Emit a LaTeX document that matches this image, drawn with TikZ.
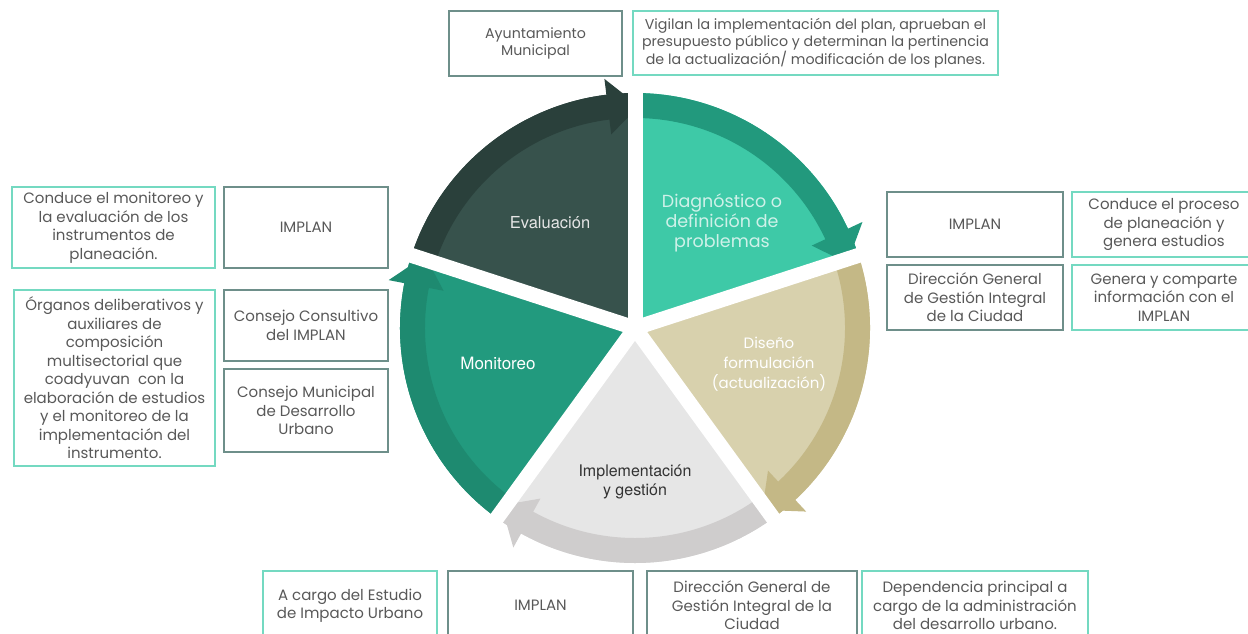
\documentclass[tikz,border=0pt]{standalone}
\usepackage{fontspec}
\setmainfont{Poppins}
\newfontfamily\heros{TeX Gyre Heros}
\usetikzlibrary{positioning}

\definecolor{evalfill}{HTML}{37524C}
\definecolor{evalband}{HTML}{2A403B}
\definecolor{diagfill}{HTML}{3EC9A7}
\definecolor{diagband}{HTML}{22997D}
\definecolor{disefill}{HTML}{D8D1AD}
\definecolor{diseband}{HTML}{C4B886}
\definecolor{implfill}{HTML}{E6E6E6}
\definecolor{implband}{HTML}{CFCDCD}
\definecolor{monifill}{HTML}{229A7E}
\definecolor{moniband}{HTML}{1E8A70}
\definecolor{roleline}{HTML}{6E8F8A}
\definecolor{noteline}{HTML}{74D9C1}
\definecolor{boxtext}{HTML}{585858}

\tikzset{
  rolebox/.style={
    draw=roleline,
    line width=1.2pt,
    inner sep=0pt,
    align=center,
    text=boxtext,
    font=\fontsize{15}{18.5}\selectfont
  },
  notebox/.style={
    rolebox,
    draw=noteline
  },
  topbox/.style={
    font=\fontsize{14.2}{17}\selectfont
  },
  phase/.style={
    align=center,
    font=\heros\fontsize{16.5}{19}\selectfont
  },
  phase wide/.style={
    align=center,
    font=\fontsize{17.5}{20}\selectfont
  }
}

\begin{document}
\begin{tikzpicture}[x=1pt,y=-1pt]
  \useasboundingbox (0,0) rectangle (1248,633);

  % cycle wheel: five sectors with arc arrows
  \begin{scope}[shift={(635,328)}, y=1pt]
    \foreach \e/\fc/\bc in {90/evalfill/evalband, 18/diagfill/diagband,
        -54/disefill/diseband, -126/implfill/implband, 162/monifill/moniband}{
      \fill[\fc] (0,0) -- (\e:235) arc[start angle=\e, delta angle=72, radius=235] -- cycle;
      \fill[\bc] (\e:210) -- (\e:235) arc[start angle=\e, delta angle=72, radius=235]
        -- ({\e+72}:210) arc[start angle={\e+72}, delta angle=-72, radius=210] -- cycle;
      \fill[\bc] ({\e+7}:195) -- ({\e-1}:222) -- ({\e+7}:251) -- cycle;
    }
    % white gaps between sectors
    \foreach \a in {18,90,162,234,306}
      \draw[white, line width=15pt] (0,0) -- (\a:262);
  \end{scope}

  % phase labels
  \node[phase, text=black!10] (eval) at (550,223) {Evaluación};
  \node[phase wide, text=diagfill!25] (diag) at (722,223) {Diagnóstico o\\definición de\\problemas};
  \node[phase wide, font=\fontsize{15}{20}\selectfont, text=white] (dise) at (769,364) {Diseño\\formulación\\(actualización)};
  \node[phase, font=\heros\fontsize{16}{19}\selectfont, text=black!80] (impl) at (635,482) {Implementación\\y gestión};
  \node[phase, font=\heros\fontsize{17}{19}\selectfont, text=white] (moni) at (498,363) {Monitoreo};

  % top: evaluation
  \node[rolebox, topbox, minimum width=173, minimum height=65] (ayto) at (535.5,43.5) {Ayuntamiento\\Municipal};
  \node[notebox, topbox, minimum width=365, minimum height=64] (vigilan) at (815.5,43) {Vigilan la implementación del plan, aprueban el\\presupuesto público y determinan la pertinencia\\de la actualización/ modificación de los planes.};

  % left: monitoring
  \node[notebox, minimum width=203, minimum height=81] (condmon) at (113.5,227.5) {Conduce el monitoreo y\\la evaluación de los\\instrumentos de\\planeación.};
  \node[rolebox, minimum width=164, minimum height=81] (implanl) at (306,227.5) {IMPLAN};
  \node[notebox, minimum width=201, minimum height=176] (organos) at (114.5,378) {Órganos deliberativos y\\auxiliares de\\composición\\multisectorial que\\coadyuvan\ \ con la\\elaboración de estudios\\y el monitoreo de la\\implementación del\\instrumento.};
  \node[rolebox, minimum width=164, minimum height=71] (conscons) at (306,325.5) {Consejo Consultivo\\del IMPLAN};
  \node[rolebox, minimum width=164, minimum height=83] (consmun) at (306,410.5) {Consejo Municipal\\de Desarrollo\\Urbano};

  % right: diagnosis
  \node[rolebox, minimum width=176, minimum height=65] (implanr) at (975,224.5) {IMPLAN};
  \node[notebox, minimum width=184, minimum height=65] (condproc) at (1164,224.5) {Conduce el proceso\\de planeación y\\genera estudios};
  \node[rolebox, minimum width=176, minimum height=65] (direcr) at (975,297.5) {Dirección General\\de Gestión Integral\\de la Ciudad};
  \node[notebox, minimum width=184, minimum height=65] (genera) at (1164,297.5) {Genera y comparte\\información con el\\IMPLAN};

  % bottom: implementation
  \node[notebox, minimum width=174, minimum height=69] (acargo) at (350,605.5) {A cargo del Estudio\\de Impacto Urbano};
  \node[rolebox, minimum width=185, minimum height=69] (implanb) at (540.5,605.5) {IMPLAN};
  \node[rolebox, minimum width=210, minimum height=69] (direcb) at (752,605.5) {Dirección General de\\Gestión Integral de la\\Ciudad};
  \node[notebox, minimum width=226, minimum height=69] (depend) at (975,605.5) {Dependencia principal a\\cargo de la administración\\del desarrollo urbano.};
\end{tikzpicture}
\end{document}
